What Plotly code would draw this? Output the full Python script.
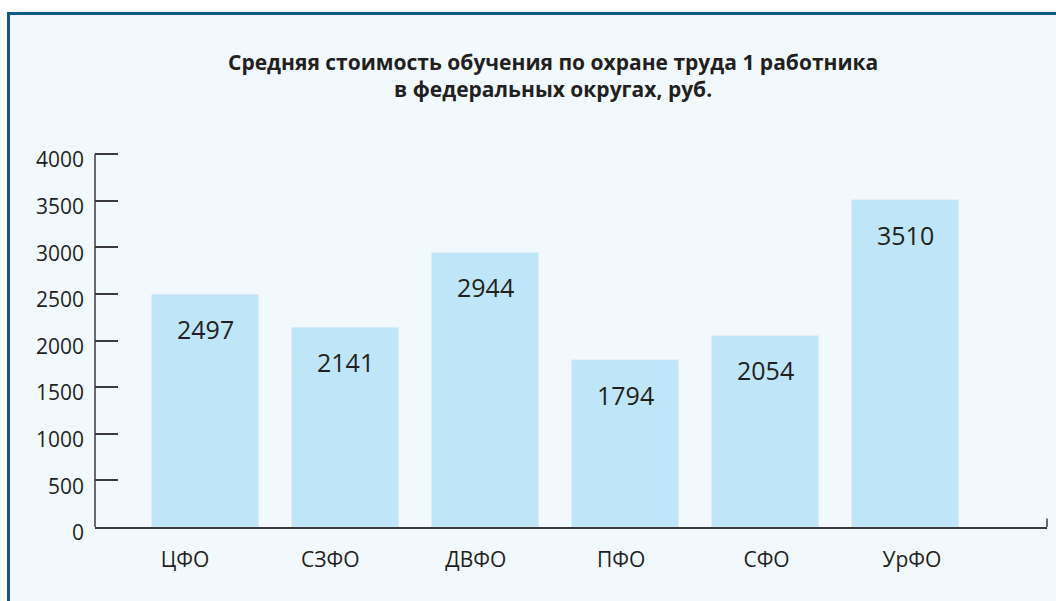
import plotly.graph_objects as go

categories = ["ЦФО", "СЗФО", "ДВФО", "ПФО", "СФО", "УрФО"]
values = [2497, 2141, 2944, 1794, 2054, 3510]
y_ticks = [0, 500, 1000, 1500, 2000, 2500, 3000, 3500, 4000]
title_lines = ["Средняя стоимость обучения по охране труда 1 работника",
               "в федеральных округах, руб."]

BAR = "#bfe6f8"
BG = "#f2f9fd"
BORDER = "#0b5b8c"
AX = "#3a3a3c"
TXT = "#231f20"
FONT = "Open Sans"

# plot area geometry (px); 4000 sits at y=154, plot top a little above it
L, R, T, B = 95, 1047, 151, 527
W, H = 1056, 601
Y_TOP_PX = 154
y_max = 4000 * (B - T) / (B - Y_TOP_PX)

def px(x):
    return (x - L) / (R - L)
def py(y):
    return (B - y) / (B - T)

fig = go.Figure()
fig.add_trace(go.Bar(x=categories, y=values, marker_color=BAR, width=0.764,
                     hoverinfo="x+y", showlegend=False))
# carrier for the category labels on their own scale
fig.add_trace(go.Scatter(x=list(range(len(categories))), y=values, xaxis="x2",
                         mode="markers", marker=dict(opacity=0),
                         hoverinfo="skip", showlegend=False))

for c, v in zip(categories, values):
    fig.add_annotation(x=c, y=v, text=str(v), showarrow=False, yanchor="middle",
                       yshift=-35, font=dict(family=FONT, size=25, color=TXT))

fig.add_annotation(xref="paper", yref="paper", x=px(552.5), y=py(75.5),
                   text="<b>" + "<br>".join(title_lines) + "</b>", showarrow=False,
                   xanchor="center", yanchor="middle", align="center",
                   font=dict(family=FONT, size=21, color=TXT))

shapes = [
    dict(type="rect", xref="paper", yref="paper", x0=px(8), x1=px(W + 2),
         y0=py(H + 2), y1=py(13), fillcolor=BG, line=dict(width=0), layer="below"),
    dict(type="line", xref="paper", yref="paper", x0=px(7), x1=px(W + 2),
         y0=py(13.5), y1=py(13.5), line=dict(color=BORDER, width=3)),
    dict(type="line", xref="paper", yref="paper", x0=px(8.5), x1=px(8.5),
         y0=py(12), y1=py(H + 2), line=dict(color=BORDER, width=3)),
    dict(type="line", xref="paper", yref="paper", x0=1, x1=1,
         y0=0, y1=py(518.5), line=dict(color=AX, width=1.5)),
    # y-axis line starts at the 4000 tick
    dict(type="line", xref="paper", yref="paper", x0=0, x1=0,
         y0=0, y1=py(Y_TOP_PX), line=dict(color=AX, width=1.5)),
]

fig.update_layout(
    width=W, height=H,
    margin=dict(l=L, r=W - R, t=T, b=H - B, pad=0),
    paper_bgcolor="white", plot_bgcolor="rgba(0,0,0,0)",
    shapes=shapes,
    xaxis=dict(type="category", range=[-0.786, 6.014], showline=True,
               linecolor=AX, linewidth=1.5, ticks="", showticklabels=False,
               showgrid=False, zeroline=False, fixedrange=True),
    xaxis2=dict(overlaying="x", anchor="y", side="bottom", range=[-0.619, 5.929],
                tickmode="array", tickvals=list(range(len(categories))),
                ticktext=categories, showline=False, showgrid=False,
                zeroline=False, ticks="", ticklabelstandoff=18,
                tickfont=dict(family=FONT, size=21, color=TXT)),
    yaxis=dict(range=[0, y_max], tickmode="array", tickvals=y_ticks,
               showline=False, ticks="inside",
               ticklen=23, tickwidth=1.5, tickcolor=AX, showgrid=False,
               zeroline=False, ticklabelstandoff=10, ticklabelshift=6,
               tickfont=dict(family=FONT, size=21, color=TXT)),
    font=dict(family=FONT, color=TXT),
)

fig.write_html("out.html")
